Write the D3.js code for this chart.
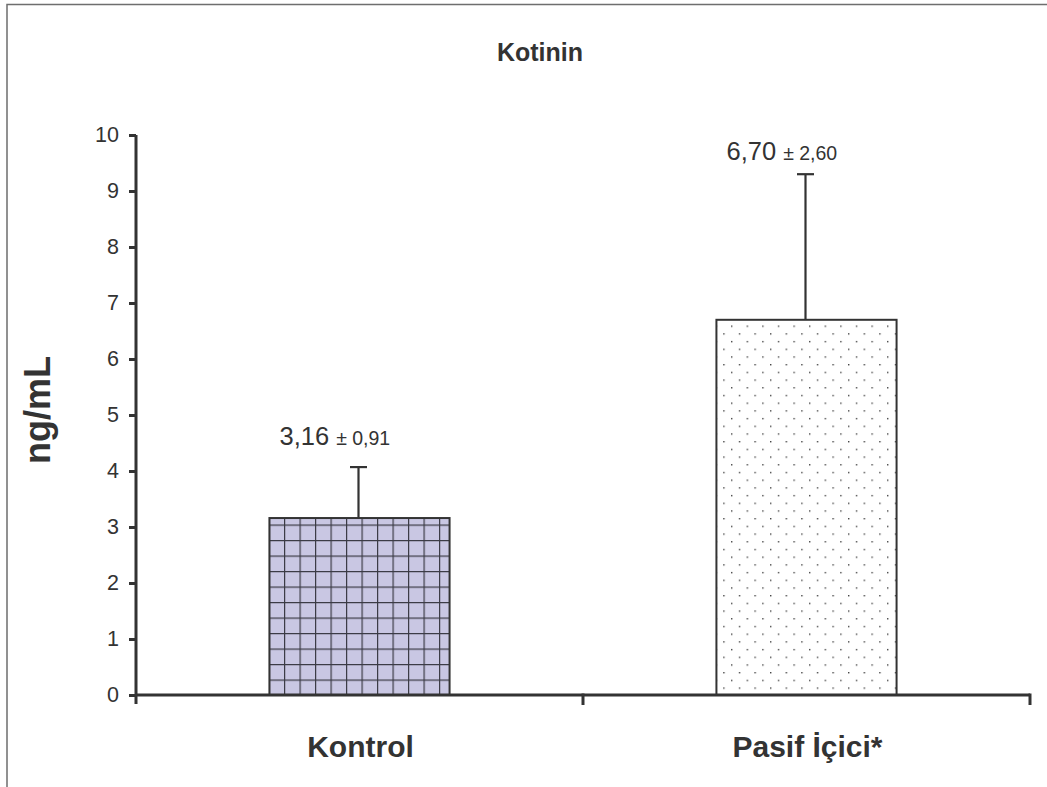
<!DOCTYPE html>
<html>
<head>
<meta charset="utf-8">
<script src="https://cdn.jsdelivr.net/npm/d3@7"></script>
<style>
  html, body { margin: 0; padding: 0; background: #fff; }
  svg { display: block; font-family: "Liberation Sans", Arial, Helvetica, sans-serif; }
</style>
</head>
<body>
<script>
const categories = ["Kontrol", "Pasif İçici*"];
const means = [3.16, 6.70];
const sds = [0.91, 2.60];
const meanLabels = ["3,16", "6,70"];
const sdLabels = ["± 0,91", "± 2,60"];
const yTicks = [0, 1, 2, 3, 4, 5, 6, 7, 8, 9, 10];

(function () {
const W = 1047, H = 787;
const svg = d3.select("body").append("svg").attr("width", W).attr("height", H);

// outer frame (top and left edges)
svg.append("path").attr("d", `M7,${H} V4.5 H${W}`).attr("fill", "none").attr("stroke", "#6e6e6e").attr("stroke-width", 1.5);

const pL = 136, pR = 1030, pT = 135, pB = 695;
const x = d3.scaleBand().domain(categories).range([pL, pR]).paddingInner(0).paddingOuter(0);
const y = d3.scaleLinear().domain([0, 10]).range([pB, pT]);

const defs = svg.append("defs");
// grid pattern
const gp = defs.append("pattern").attr("id", "grid").attr("patternUnits", "userSpaceOnUse")
  .attr("width", 15.5).attr("height", 15.5).attr("x", 268 - 15.5 + 0.5).attr("y", 524 - 15.5 + 0.5);
gp.append("rect").attr("width", 15.5).attr("height", 15.5).attr("fill", "#c9c7e3");
gp.append("path").attr("d", "M0,0 H15.5 M0,0 V15.5").attr("stroke", "#3a3a44").attr("stroke-width", 2.4);
// dot pattern
const dp = defs.append("pattern").attr("id", "dots").attr("patternUnits", "userSpaceOnUse")
  .attr("width", 15.6).attr("height", 15.4).attr("x", 731).attr("y", 325.5);
dp.append("rect").attr("width", 15.6).attr("height", 15.4).attr("fill", "#fff");
dp.append("rect").attr("x", 0).attr("y", 0).attr("width", 1.4).attr("height", 1.4).attr("fill", "#444");
dp.append("rect").attr("x", 7.8).attr("y", 7.7).attr("width", 1.4).attr("height", 1.4).attr("fill", "#444");

const fills = ["url(#grid)", "url(#dots)"];
const barW = x.bandwidth() * 0.403;

// error bars
categories.forEach((c, i) => {
  const cx = x(c) + x.bandwidth() / 2 - 1;
  svg.append("line").attr("x1", cx).attr("x2", cx).attr("y1", y(means[i])).attr("y2", y(means[i] + sds[i]))
    .attr("stroke", "#333").attr("stroke-width", 2.2);
  svg.append("line").attr("x1", cx - 8.5).attr("x2", cx + 8.5).attr("y1", y(means[i] + sds[i])).attr("y2", y(means[i] + sds[i]))
    .attr("stroke", "#333").attr("stroke-width", 2.2);
});

// bars
svg.selectAll("rect.bar").data(categories).enter().append("rect")
  .attr("class", "bar")
  .attr("x", d => x(d) + (x.bandwidth() - barW) / 2)
  .attr("width", barW)
  .attr("y", (d, i) => y(means[i]))
  .attr("height", (d, i) => pB - y(means[i]))
  .attr("fill", (d, i) => fills[i])
  .attr("stroke", "#333").attr("stroke-width", 2);

// value labels
categories.forEach((c, i) => {
  const cx = x(c) + x.bandwidth() / 2;
  const t = svg.append("text").attr("x", cx - 80).attr("y", y(means[i] + sds[i]) - (i === 0 ? 22 : 14))
    .attr("fill", "#333");
  t.append("tspan").attr("font-size", 25.5).text(meanLabels[i]);
  t.append("tspan").attr("font-size", 19.5).attr("dx", 7).text(sdLabels[i]);
});

// y axis
const yAxis = svg.append("g").attr("transform", `translate(${pL},0)`)
  .call(d3.axisLeft(y).tickValues(yTicks).tickSize(7).tickPadding(10).tickFormat(d3.format("d")));
yAxis.select(".domain").attr("stroke", "#333").attr("stroke-width", 3).attr("d", `M0,${pT} V${pB + 9}`);
yAxis.selectAll(".tick line").attr("stroke", "#333").attr("stroke-width", 3);
yAxis.selectAll(".tick text").attr("font-size", 21.5).attr("fill", "#333").attr("font-family", "Liberation Sans, Arial, sans-serif");

// x axis
const xAxis = svg.append("g").attr("transform", `translate(0,${pB})`);
xAxis.append("line").attr("x1", pL).attr("x2", pR).attr("y1", 0).attr("y2", 0).attr("stroke", "#333").attr("stroke-width", 3);
const xTickPos = [x(categories[1]), pR];
xAxis.selectAll("line.xt").data(xTickPos).enter().append("line").attr("class", "xt")
  .attr("x1", d => d).attr("x2", d => d).attr("y1", -1.5).attr("y2", 10)
  .attr("stroke", "#333").attr("stroke-width", 3);
xAxis.selectAll("text.xl").data(categories).enter().append("text").attr("class", "xl")
  .attr("x", d => x(d) + x.bandwidth() / 2 + 1).attr("y", 62)
  .attr("text-anchor", "middle").attr("font-size", 30).attr("font-weight", "bold").attr("fill", "#333")
  .text(d => d);

// title
svg.append("text").attr("x", 540).attr("y", 61).attr("text-anchor", "middle")
  .attr("font-size", 25).attr("font-weight", "bold").attr("fill", "#333").text("Kotinin");

// y label
svg.append("text").attr("transform", `translate(50,410) rotate(-90)`).attr("text-anchor", "middle")
  .attr("font-size", 36).attr("font-weight", "bold").attr("fill", "#333").text("ng/mL");
})();
</script>
</body>
</html>
